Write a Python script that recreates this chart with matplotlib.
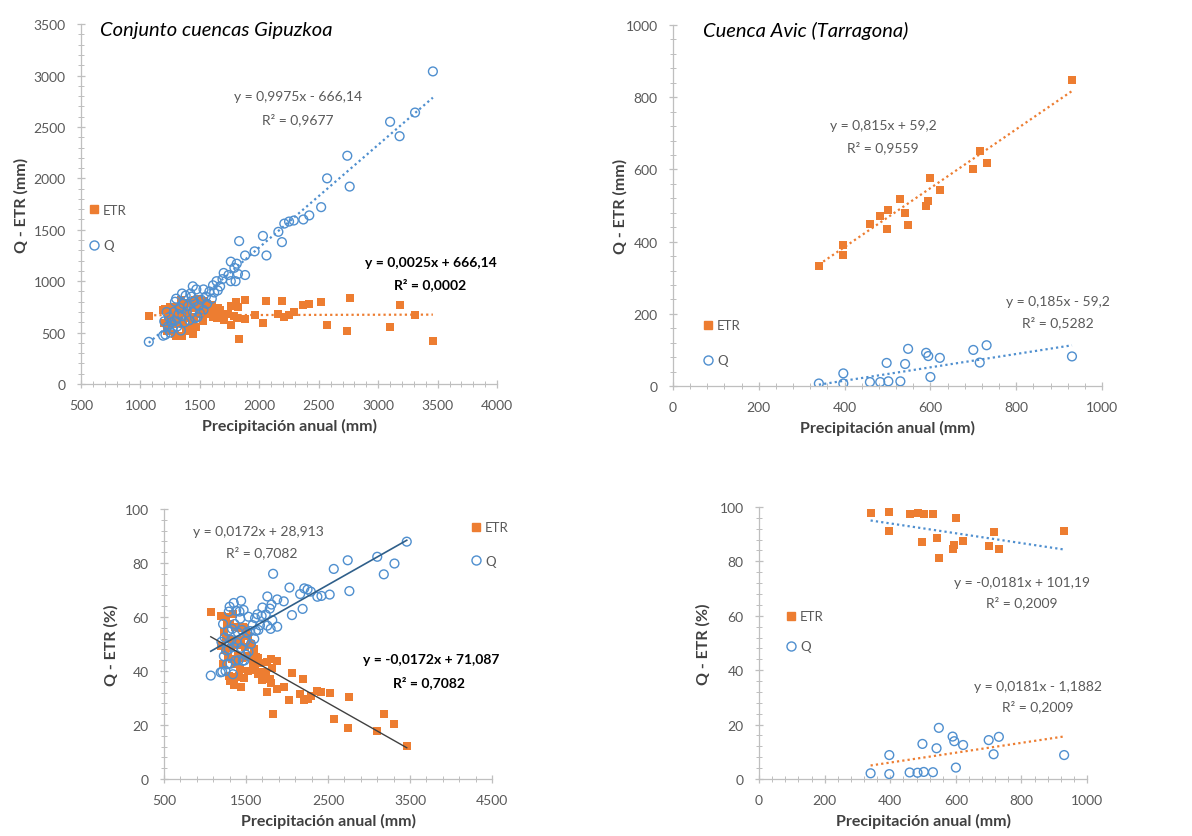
"""
Balance hídrico anual: Q y ETR frente a la precipitación anual
(cuencas de Gipuzkoa y cuenca Avic, Tarragona), en mm y en %.
"""

import matplotlib
matplotlib.use('Agg')
import matplotlib.pyplot as plt
from matplotlib.lines import Line2D
import numpy as np

plt.rcParams['font.family'] = ['Lato', 'DejaVu Sans']

ORANGE = '#ED7D31'
BLUE   = '#4F8FCF'
GREY   = '#595959'
DARK   = '#404040'
AXIS   = '#BFBFBF'

# ── Datos: conjunto cuencas Gipuzkoa ──────────────────────────────────────────
gip_p = [3460, 3310, 3180, 3100, 2740, 2760, 2570, 2520, 2420, 2370,
         2290, 2250, 2210, 2190, 2160, 2060, 2030, 1960, 1880, 1880,
         1830, 1820, 1810, 1800, 1790, 1760, 1740, 1700, 1690, 1670,
         1650, 1640, 1620, 1600, 1580, 1560, 1550, 1530, 1510, 1500,
         1490, 1470, 1460, 1450, 1440, 1430, 1420, 1410, 1400, 1390,
         1380, 1370, 1360, 1350, 1340, 1330, 1320, 1310, 1300, 1290,
         1280, 1270, 1260, 1250, 1240, 1230, 1210, 1200, 1190, 1070,
         1220, 1350, 1480, 1530, 1610, 1760, 1290, 1440]
gip_q_mm = [3040, 2640, 2410, 2550, 2220, 1920, 2000, 1720, 1640, 1600,
            1590, 1580, 1560, 1380, 1480, 1250, 1440, 1290, 1250, 1060,
            1390, 1070, 1170, 1000, 1130, 1190, 1060, 1080, 1020, 950,
            910, 1000, 890, 830, 900, 780, 850, 720, 820, 690,
            760, 920, 640, 800, 700, 850, 880, 620, 760, 700,
            860, 600, 780, 660, 520, 740, 680, 560, 830, 620,
            700, 540, 600, 500, 650, 560, 480, 610, 470, 410,
            700, 880, 650, 920, 960, 1000, 800, 950]
gip_etr_mm = [420, 670, 770, 550, 520, 840, 570, 800, 780, 770,
              700, 670, 650, 810, 680, 810, 590, 670, 630, 820,
              440, 750, 640, 800, 660, 570, 680, 620, 670, 720,
              740, 640, 730, 770, 680, 780, 700, 810, 690, 810,
              730, 550, 820, 650, 740, 580, 540, 790, 640, 690,
              520, 770, 580, 690, 820, 590, 640, 750, 470, 670,
              580, 730, 660, 750, 590, 670, 730, 590, 720, 660,
              520, 470, 830, 610, 650, 760, 490, 490]
gip_q_pct = [87.9, 79.8, 75.8, 82.3, 81.0, 69.6, 77.8, 68.3, 67.8, 67.5,
             69.4, 70.2, 70.6, 63.0, 68.5, 60.7, 70.9, 65.8, 66.5, 56.4,
             76.0, 58.8, 64.6, 55.6, 63.1, 67.6, 60.9, 63.5, 60.4, 56.9,
             55.2, 61.0, 54.9, 51.9, 57.0, 50.0, 54.8, 47.1, 54.3, 46.0,
             51.0, 62.6, 43.8, 55.2, 48.6, 59.4, 62.0, 44.0, 54.3, 50.4,
             62.3, 43.8, 57.4, 48.9, 38.8, 55.6, 51.5, 42.7, 63.8, 48.1,
             54.7, 42.5, 47.6, 40.0, 52.4, 45.5, 39.7, 50.8, 39.5, 38.3,
             57.4, 65.2, 43.9, 60.1, 59.6, 56.8, 62.0, 66.0]
gip_etr_pct = [12.1, 20.2, 24.2, 17.7, 19.0, 30.4, 22.2, 31.7, 32.2, 32.5,
               30.6, 29.8, 29.4, 37.0, 31.5, 39.3, 29.1, 34.2, 33.5, 43.6,
               24.0, 41.2, 35.4, 44.4, 36.9, 32.4, 39.1, 36.5, 39.6, 43.1,
               44.8, 39.0, 45.1, 48.1, 43.0, 50.0, 45.2, 52.9, 45.7, 54.0,
               49.0, 37.4, 56.2, 44.8, 51.4, 40.6, 38.0, 56.0, 45.7, 49.6,
               37.7, 56.2, 42.6, 51.1, 61.2, 44.4, 48.5, 57.3, 36.2, 51.9,
               45.3, 57.5, 52.4, 60.0, 47.6, 54.5, 60.3, 49.2, 60.5, 61.7,
               42.6, 34.8, 56.1, 39.9, 40.4, 43.2, 38.0, 34.0]

# ── Datos: cuenca Avic (Tarragona) ────────────────────────────────────────────
avic_p = [340, 397, 397, 459, 483, 498, 502, 530, 541, 548,
          590, 595, 600, 622, 700, 715, 731, 930]
avic_etr_mm = [333, 390, 362, 448, 472, 434, 489, 517, 480, 445,
               498, 512, 575, 544, 600, 650, 618, 848]
avic_q_mm = [7, 7, 35, 11, 11, 64, 13, 13, 61, 103,
             92, 83, 25, 78, 100, 65, 113, 82]
avic_etr_pct = [97.9, 98.2, 91.2, 97.6, 97.7, 87.1, 97.4, 97.5, 88.7, 81.2,
                84.4, 86.1, 95.8, 87.5, 85.7, 90.9, 84.5, 91.2]
avic_q_pct = [2.1, 1.8, 8.8, 2.4, 2.3, 12.9, 2.6, 2.5, 11.3, 18.8,
              15.6, 13.9, 4.2, 12.5, 14.3, 9.1, 15.5, 8.8]

# ── Rectas de tendencia (pendiente, ordenada) ─────────────────────────────────
gip_mm_q_fit   = (0.9975, -666.14)
gip_mm_etr_fit = (0.0025, 666.14)
avic_mm_etr_fit = (0.815, 59.2)
avic_mm_q_fit   = (0.185, -59.2)
gip_pct_q_fit   = (0.0172, 28.913)
gip_pct_etr_fit = (-0.0172, 71.087)
avic_pct_etr_fit = (-0.0181, 101.19)
avic_pct_q_fit   = (0.0181, -1.1882)

EQ_SIZE = 10


def style_axes(ax, xticks, xminor, yticks, yminor, ylabel, ylab_x):
    ax.set_xlim(xticks[0], xticks[-1])
    ax.set_ylim(yticks[0], yticks[-1])
    ax.set_xticks(xticks)
    ax.set_yticks(yticks)
    ax.set_xticks(np.arange(xticks[0], xticks[-1] + 1e-9, xminor), minor=True)
    ax.set_yticks(np.arange(yticks[0], yticks[-1] + 1e-9, yminor), minor=True)
    for s in ['top', 'right']:
        ax.spines[s].set_visible(False)
    for s in ['left', 'bottom']:
        ax.spines[s].set_color(AXIS)
        ax.spines[s].set_linewidth(0.9)
    ax.tick_params(which='both', direction='inout', color=AXIS,
                   labelcolor=GREY, labelsize=10, pad=8)
    ax.tick_params(which='major', length=6, width=0.9)
    ax.tick_params(which='minor', length=4, width=0.7)
    ax.set_xlabel('Precipitación anual (mm)', fontsize=11.5, fontweight='bold',
                  color=DARK, labelpad=5)
    ax.set_ylabel(ylabel, fontsize=11.5, fontweight='bold', color=DARK)
    ax.yaxis.set_label_coords(ylab_x, 0.5)
    ax.patch.set_alpha(0)


def add_legend(ax, x, y, spacing):
    h_etr = Line2D([], [], linestyle='none', marker='s', markersize=6,
                   mfc=ORANGE, mec=ORANGE)
    h_q = Line2D([], [], linestyle='none', marker='o', markersize=6.5,
                 mfc='none', mec=BLUE, mew=1.0)
    ax.legend([h_etr, h_q], ['ETR', 'Q'], loc='upper left',
              bbox_to_anchor=(x, y), frameon=False, handlelength=0.8,
              handletextpad=0.3, labelspacing=spacing, borderpad=0,
              borderaxespad=0, fontsize=9.5, labelcolor=GREY)


def trend(ax, p, fit, **kw):
    xs = np.array([min(p), max(p)])
    ax.plot(xs, fit[0] * xs + fit[1], **kw)


def points(ax, p, etr, q):
    ax.scatter(p, etr, marker='s', s=36, c=ORANGE, linewidths=0, zorder=2)
    ax.scatter(p, q, marker='o', s=40, facecolors='none', edgecolors=BLUE,
               linewidths=1.0, zorder=3)


def eq(ax, x, y, txt, bold=False):
    ax.text(x, y, txt, ha='center', va='center', fontsize=EQ_SIZE,
            color='black' if bold else GREY,
            fontweight='bold' if bold else 'normal')


DOT = dict(linestyle=(0, (1, 1.4)), linewidth=1.6, zorder=4)

fig = plt.figure(figsize=(11.92, 8.37), dpi=100)

# ── Panel 1: Gipuzkoa (mm) ────────────────────────────────────────────────────
ax1 = fig.add_axes([0.068, 0.540, 0.349, 0.430])
points(ax1, gip_p, gip_etr_mm, gip_q_mm)
trend(ax1, gip_p, gip_mm_q_fit, color=BLUE, **DOT)
trend(ax1, gip_p, gip_mm_etr_fit, color=ORANGE, **DOT)
style_axes(ax1, np.arange(500, 4001, 500), 100, np.arange(0, 3501, 500), 100,
           'Q - ETR (mm)', -0.125)
ax1.text(0.045, 0.985, 'Conjunto cuencas Gipuzkoa', transform=ax1.transAxes,
         fontsize=14.5, style='italic', color='black', va='center')
eq(ax1, 2326, 2800, 'y = 0,9975x - 666,14')
eq(ax1, 2326, 2576, 'R² = 0,9677')
eq(ax1, 3440, 1186, 'y = 0,0025x + 666,14', bold=True)
eq(ax1, 3440, 972, 'R² = 0,0002', bold=True)
add_legend(ax1, 0.018, 0.50, 1.75)

# ── Panel 2: Avic (mm) ────────────────────────────────────────────────────────
ax2 = fig.add_axes([0.5646, 0.5376, 0.3599, 0.4313])
points(ax2, avic_p, avic_etr_mm, avic_q_mm)
trend(ax2, avic_p, avic_mm_etr_fit, color=ORANGE, **DOT)
trend(ax2, avic_p, avic_mm_q_fit, color=BLUE, **DOT)
style_axes(ax2, np.arange(0, 1001, 200), 40, np.arange(0, 1001, 200), 40,
           'Q - ETR (mm)', -0.107)
ax2.text(0.07, 0.985, 'Cuenca Avic (Tarragona)', transform=ax2.transAxes,
         fontsize=14.5, style='italic', color='black', va='center')
eq(ax2, 490, 724, 'y = 0,815x + 59,2')
eq(ax2, 490, 663, 'R² = 0,9559')
eq(ax2, 897, 235, 'y = 0,185x - 59,2')
eq(ax2, 897, 177, 'R² = 0,5282')
add_legend(ax2, 0.069, 0.185, 1.75)

# ── Panel 3: Gipuzkoa (%) ─────────────────────────────────────────────────────
ax3 = fig.add_axes([0.1376, 0.0681, 0.2752, 0.3226])
points(ax3, gip_p, gip_etr_pct, gip_q_pct)
trend(ax3, gip_p, gip_pct_q_fit, color='#2F5F8A', linewidth=1.2, zorder=4)
trend(ax3, gip_p, gip_pct_etr_fit, color=DARK, linewidth=1.0, zorder=4)
style_axes(ax3, np.arange(500, 4501, 1000), 200, np.arange(0, 101, 20), 4,
           'Q - ETR (%)', -0.137)
eq(ax3, 1646, 91.9, 'y = 0,0172x + 28,913')
eq(ax3, 1695, 84.1, 'R² = 0,7082')
eq(ax3, 3756, 44.4, 'y = -0,0172x + 71,087', bold=True)
eq(ax3, 3732, 35.9, 'R² = 0,7082', bold=True)
add_legend(ax3, 0.934, 0.955, 1.65)

# ── Panel 4: Avic (%) ─────────────────────────────────────────────────────────
ax4 = fig.add_axes([0.6368, 0.0681, 0.2752, 0.3250])
points(ax4, avic_p, avic_etr_pct, avic_q_pct)
trend(ax4, avic_p, avic_pct_etr_fit, color=BLUE, **DOT)
trend(ax4, avic_p, avic_pct_q_fit, color=ORANGE, **DOT)
style_axes(ax4, np.arange(0, 1001, 200), 40, np.arange(0, 101, 20), 4,
           'Q - ETR (%)', -0.149)
eq(ax4, 802, 72.4, 'y = -0,0181x + 101,19')
eq(ax4, 802, 65.1, 'R² = 0,2009')
eq(ax4, 851, 34.2, 'y = 0,0181x - 1,1882')
eq(ax4, 851, 26.8, 'R² = 0,2009')
add_legend(ax4, 0.081, 0.62, 1.35)

fig.savefig('out.png', dpi=100)
print("Saved out.png")
